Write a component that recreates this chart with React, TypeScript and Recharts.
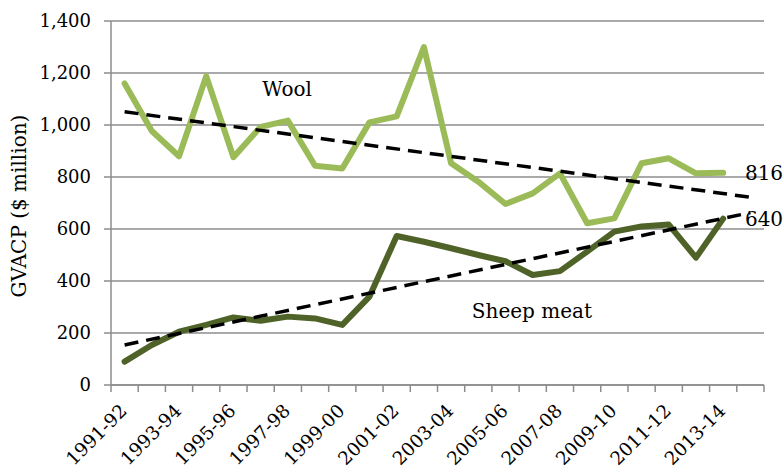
import React from 'react';
import { LineChart, Line, XAxis, YAxis, CartesianGrid, ReferenceDot } from 'recharts';

const years = ['1991-92','1992-93','1993-94','1994-95','1995-96','1996-97','1997-98','1998-99','1999-00','2000-01','2001-02','2002-03','2003-04','2004-05','2005-06','2006-07','2007-08','2008-09','2009-10','2010-11','2011-12','2012-13','2013-14','2014-15'];
const wool = [1160, 977, 880, 1188, 876, 993, 1017, 843, 833, 1010, 1033, 1300, 853, 782, 696, 737, 814, 622, 641, 853, 872, 814, 816];
const sheepMeat = [90, 154, 205, 231, 260, 247, 263, 256, 231, 340, 573, 551, 526, 500, 476, 423, 438, 513, 590, 610, 617, 490, 640];
const woolTrendEnds = [1051, 722];
const sheepTrendEnds = [154, 663];
const yTicks = [0, 200, 400, 600, 800, 1000, 1200, 1400];
const labelYears = ['1991-92','1993-94','1995-96','1997-98','1999-00','2001-02','2003-04','2005-06','2007-08','2009-10','2011-12','2013-14'];

const woolData = wool.map((v, i) => ({ x: i + 0.5, v }));
const sheepData = sheepMeat.map((v, i) => ({ x: i + 0.5, v }));
const woolTrend = [{ x: 0.5, v: woolTrendEnds[0] }, { x: years.length - 0.5, v: woolTrendEnds[1] }];
const sheepTrend = [{ x: 0.5, v: sheepTrendEnds[0] }, { x: years.length - 0.5, v: sheepTrendEnds[1] }];
const boundaryTicks = years.map((_, i) => i).concat([years.length]);
const labelTicks = labelYears.map((y) => years.indexOf(y) + 0.5);

const FONT = 'DejaVu Serif';

const XLabelTick = (props: any) => {
  const { x, y, payload } = props;
  const label = years[Math.floor(payload.value)];
  return (
    <g transform={`translate(${x + 3.5},${y + 20})`}>
      <text textAnchor="end" transform="rotate(-45)" fontFamily={FONT} fontSize={18.5} fill="#000">
        {label}
      </text>
    </g>
  );
};

const EmptyTick = () => <g />;

const YLabel = (props: any) => {
  const { viewBox } = props;
  const cx = viewBox.x + 19;
  const cy = viewBox.y + viewBox.height / 2 + 3;
  return (
    <text x={cx} y={cy} transform={`rotate(-90 ${cx} ${cy})`} textAnchor="middle" dominantBaseline="central" fontFamily={FONT} fontSize={20} fill="#000">
      GVACP ($ million)
    </text>
  );
};

const fmt = (v: number) => v.toLocaleString('en-US');

export default function App() {
  return (
    <div style={{ position: 'absolute', left: 0, top: 0, background: '#fff' }}>
      <LineChart width={784} height={468} margin={{ top: 21, right: 20, bottom: 0, left: 0 }}>
        <CartesianGrid vertical={false} stroke="#8c8c8c" strokeWidth={1.3} yAxisId="y" xAxisId="a" />
        <XAxis xAxisId="a" dataKey="x" type="number" domain={[0, years.length]} ticks={boundaryTicks} interval={0} tick={<EmptyTick />} tickLine={{ stroke: '#8c8c8c', strokeWidth: 1.5 }} tickSize={7} tickMargin={0} height={7} axisLine={{ stroke: '#8c8c8c', strokeWidth: 1.5 }} allowDataOverflow />
        <XAxis xAxisId="b" dataKey="x" type="number" domain={[0, years.length]} ticks={labelTicks} interval={0} tick={<XLabelTick />} tickSize={0} tickMargin={0} axisLine={false} tickLine={false} height={76} allowDataOverflow />
        <YAxis yAxisId="y" type="number" domain={[0, 1400]} ticks={yTicks} interval={0} width={111} tickSize={7} tickMargin={13} tickFormatter={fmt} stroke="#8c8c8c" strokeWidth={1.5} tick={{ fill: '#000', fontFamily: FONT, fontSize: 18 }} label={<YLabel />} />
        <Line xAxisId="a" yAxisId="y" data={woolData} dataKey="v" stroke="#9BBB59" strokeWidth={6} dot={false} strokeLinecap="round" strokeLinejoin="round" isAnimationActive={false} />
        <Line xAxisId="a" yAxisId="y" data={sheepData} dataKey="v" stroke="#4F6228" strokeWidth={6} dot={false} strokeLinecap="round" strokeLinejoin="round" isAnimationActive={false} />
        <Line xAxisId="a" yAxisId="y" data={woolTrend} dataKey="v" stroke="#000" strokeWidth={3.5} strokeDasharray="14 8" dot={false} isAnimationActive={false} />
        <Line xAxisId="a" yAxisId="y" data={sheepTrend} dataKey="v" stroke="#000" strokeWidth={3.5} strokeDasharray="14 8" dot={false} isAnimationActive={false} />
        <ReferenceDot xAxisId="a" yAxisId="y" x={6.47} y={1138} r={0} ifOverflow="visible" label={{ value: 'Wool', position: 'center', fontFamily: FONT, fontSize: 20, fill: '#000' }} />
        <ReferenceDot xAxisId="a" yAxisId="y" x={15.47} y={285} r={0} ifOverflow="visible" label={{ value: 'Sheep meat', position: 'center', fontFamily: FONT, fontSize: 20, fill: '#000' }} />
        <ReferenceDot xAxisId="a" yAxisId="y" x={24} y={816} r={0} ifOverflow="visible" label={{ value: '816', position: 'center', fontFamily: FONT, fontSize: 20, fill: '#000' }} />
        <ReferenceDot xAxisId="a" yAxisId="y" x={24} y={640} r={0} ifOverflow="visible" label={{ value: '640', position: 'center', fontFamily: FONT, fontSize: 20, fill: '#000' }} />
      </LineChart>
    </div>
  );
}
